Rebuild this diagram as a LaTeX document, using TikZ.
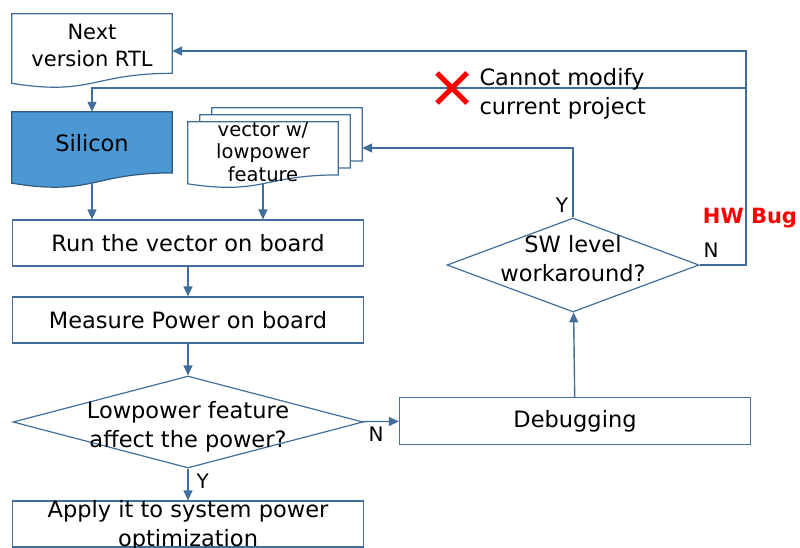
\documentclass[tikz,border=0pt]{standalone}
\usepackage{fontspec}
\setmainfont{DejaVu Sans}
\usetikzlibrary{arrows.meta,calc,shapes.geometric}
\definecolor{flowline}{RGB}{65,110,155}
\definecolor{siliconblue}{RGB}{75,152,212}
\tikzset{
	box/.style = {draw = flowline, line width = 1.2pt, minimum width = 351pt, minimum height = 46pt, inner sep = 0pt, align = center},
	decision/.style = {diamond, draw = flowline, line width = 1.2pt, inner sep = 0pt},
	docnode/.style = {minimum width = 150pt, inner sep = 0pt},
	flow/.style = {draw = flowline, line width = 1.4pt, -{Triangle[length = 10pt, width = 9pt]}},
	yn/.style = {font = \fontsize{20}{20}\selectfont},
}
% outline of a document shape round node #2
\newcommand\docoutline[2]{%
	\path[#1] (#2.north west) -- (#2.north east) -- ($(#2.north east)!0.8!(#2.south east)$)
		.. controls ($(#2.north)!0.8!(#2.south)$) and ($(#2.north)!1.107!(#2.south)$) ..
		($(#2.north west)!0.934!(#2.south west)$) -- cycle;}
\begin{document}
\begin{tikzpicture}[x = 1pt, y = -1pt, font = \fontsize{22.5}{29}\selectfont]
\useasboundingbox (0,0) rectangle (800,547);

% documents
\node[docnode, minimum width = 160pt, minimum height = 74pt] (next) at (92,51) {};
\docoutline{draw = flowline, line width = 1.2pt, fill = white}{next}
\node[align = center, font = \fontsize{21}{27}\selectfont] at (92,45) {Next\\version RTL};
\node[docnode, minimum width = 160pt, minimum height = 76pt] (silicon) at (92,150) {};
\docoutline{draw = flowline!80!black, line width = 1.2pt, fill = siliconblue}{silicon}
\node at (92,143) {Silicon};

\node[docnode, minimum height = 66pt] (vecc) at (287,141) {};
\node[docnode, minimum height = 66pt] (vecb) at (275,148) {};
\node[docnode, minimum height = 66pt] (veca) at (263,155) {};
\foreach \v in {vecc, vecb, veca} {
	\docoutline{draw = flowline, line width = 1.2pt, fill = white}{\v}
}
\node[align = center, font = \fontsize{19.5}{22.5}\selectfont] at (263,152) {vector w/\\lowpower\\feature};

% boxes
\node[box] (run) at (188,243) {Run the vector on board};
\node[box] (measure) at (188,320) {Measure Power on board};
\node[decision, minimum width = 350pt, minimum height = 92pt,
	label = {[align = center, yshift = -5pt]center:Lowpower feature\\affect the power?}] (d1) at (188,422) {};
\node[box, label = {[align = center, yshift = -2pt]center:Apply it to system power\\optimization}] (apply) at (188,524) {};
\node[box, minimum height = 47pt] (debug) at (575,421) {Debugging};
\node[decision, minimum width = 252pt, minimum height = 94pt,
	label = {[align = center, yshift = 6pt]center:SW level\\workaround?}] (d2) at (573,265) {};

% connectors
\draw[flow] ([yshift = 5pt]silicon.south) -- (silicon.south |- run.north);
\draw[flow] ([yshift = 4pt]veca.south) -- (veca.south |- run.north);
\draw[flow] (run) -- (measure);
\draw[flow] (measure) -- (d1);
\draw[flow] (d1) -- (apply);
\draw[flow] (d1) -- (debug);
\draw[flow] (debug) -- (d2);
\draw[flow] (d2.north) |- ([yshift = -7pt]vecc.east);
\coordinate (turn) at (746,265);
\coordinate (split) at (746,88);
\draw[flow] (d2.east) -- (turn) |- (next.east);
\draw[flow] (split) -| (silicon.north);

% labels
\node[yn, anchor = west] (ylow) at (193,481) {Y};
\node[yn] (nlow) at (376,434) {N};
\node[yn] (yup) at (562,205) {Y};
\node[yn] (nup) at (711,250) {N};
\node[font = \fontsize{21}{21}\selectfont\bfseries, text = red] (hwbug) at (750,218) {HW Bug};
\draw[red, line width = 5pt] (437,73) -- (467,103) (467,73) -- (437,103);
\node[anchor = west, align = left] (nomod) at (476,94) {Cannot modify\\current project};
\end{tikzpicture}
\end{document}
